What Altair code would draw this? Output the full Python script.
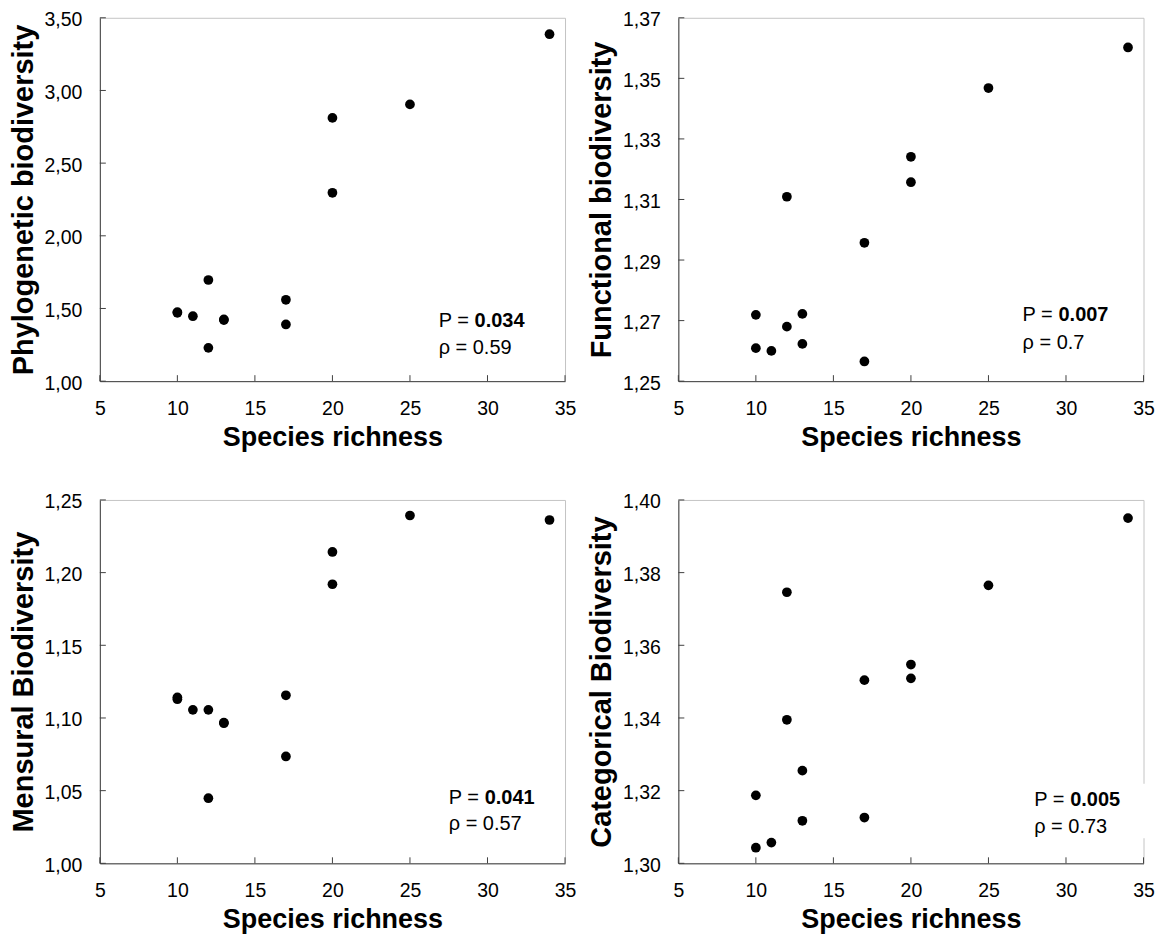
import altair as alt
import pandas as pd

# ---- data ----
richness = [10, 10, 11, 12, 12, 13, 13, 17, 17, 20, 20, 25, 34]
phylogenetic = [1.475, 1.470, 1.447, 1.696, 1.229, 1.420, 1.425, 1.560, 1.390, 2.811, 2.296, 2.904, 3.387]
functional = [1.2719, 1.2609, 1.2600, 1.3109, 1.2680, 1.2722, 1.2623, 1.2957, 1.2565, 1.3241, 1.3157, 1.3468, 1.3602]
mensural = [1.1142, 1.1129, 1.1056, 1.1056, 1.0448, 1.0964, 1.0968, 1.1156, 1.0735, 1.2142, 1.1920, 1.2393, 1.2362]
categorical = [1.3187, 1.3043, 1.3057, 1.3746, 1.3395, 1.3255, 1.3117, 1.3504, 1.3126, 1.3547, 1.3509, 1.3765, 1.3950]

x_ticks = [5, 10, 15, 20, 25, 30, 35]
phylo_ticks = [1.00, 1.50, 2.00, 2.50, 3.00, 3.50]
func_ticks = [1.25, 1.27, 1.29, 1.31, 1.33, 1.35, 1.37]
mens_ticks = [1.00, 1.05, 1.10, 1.15, 1.20, 1.25]
cat_ticks = [1.30, 1.32, 1.34, 1.36, 1.38, 1.40]

y_titles = ["Phylogenetic biodiversity", "Functional biodiversity",
            "Mensural Biodiversity", "Categorical Biodiversity"]
x_title = "Species richness"

p_values = ["0.034", "0.007", "0.041", "0.005"]
rho_values = ["0.59", "0.7", "0.57", "0.73"]
ann_x = [26.85, 27.2, 27.5, 27.95]
ann_p_y = [1.4125, 1.2717, 1.0452, 1.3173]
ann_r_y = [1.2267, 1.2627, 1.0271, 1.3100]

# white label box in the last panel (x1, x2, y1, y2)
box4 = [27.3, 35.4, 1.3069, 1.3219]

W, H = 466, 364
FONT = "Liberation Sans"
AXC = "#404040"
LABEL_EXPR = "replace(format(datum.value, '.2f'), '.', ',')"


def panel(yvals, ytitle, yticks, i, box=None):
    xs = alt.Scale(domain=[x_ticks[0], x_ticks[-1]], nice=False, zero=False)
    ys = alt.Scale(domain=[yticks[0], yticks[-1]], nice=False, zero=False)
    xax = alt.Axis(title=x_title, values=x_ticks)
    yax = alt.Axis(title=ytitle, values=yticks, labelExpr=LABEL_EXPR)

    def X(f):
        return alt.X(f, scale=xs, axis=xax)

    def Y(f):
        return alt.Y(f, scale=ys, axis=yax)

    df = pd.DataFrame({"x": richness, "y": yvals})
    pts = alt.Chart(df).mark_circle(size=95, color="black", opacity=1).encode(
        x=X("x:Q"), y=Y("y:Q"))
    ytk = alt.Chart(pd.DataFrame({"y": yticks})).mark_rule(color=AXC, strokeWidth=1).encode(
        y=Y("y:Q"), x=alt.value(0), x2=alt.value(6))
    xtk = alt.Chart(pd.DataFrame({"x": x_ticks})).mark_rule(color=AXC, strokeWidth=1).encode(
        x=X("x:Q"), y=alt.value(H), y2=alt.value(H - 6))
    layers = [pts, ytk, xtk]
    if box is not None:
        bdf = pd.DataFrame({"x": [box[0]], "x2": [box[1]], "y": [box[2]], "y2": [box[3]]})
        layers.append(alt.Chart(bdf).mark_rect(color="white").encode(
            x=X("x:Q"), x2="x2:Q", y=Y("y:Q"), y2="y2:Q"))
    adf = pd.DataFrame({"x": [ann_x[i]], "yp": [ann_p_y[i]], "yr": [ann_r_y[i]],
                        "p": ["P = "], "pv": [p_values[i]], "r": ["ρ = " + rho_values[i]]})
    base = alt.Chart(adf)
    tp = base.mark_text(align="left", baseline="middle", font=FONT, fontSize=20, color="black").encode(
        x=X("x:Q"), y=Y("yp:Q"), text="p:N")
    tv = base.mark_text(align="left", baseline="middle", font=FONT, fontSize=20, fontWeight="bold",
                        color="black", dx=36).encode(
        x=X("x:Q"), y=Y("yp:Q"), text="pv:N")
    tr = base.mark_text(align="left", baseline="middle", font=FONT, fontSize=20, color="black").encode(
        x=X("x:Q"), y=Y("yr:Q"), text="r:N")
    layers += [tp, tv, tr]
    return alt.layer(*layers).properties(width=W, height=H)


p1 = panel(phylogenetic, y_titles[0], phylo_ticks, 0)
p2 = panel(functional, y_titles[1], func_ticks, 1)
p3 = panel(mensural, y_titles[2], mens_ticks, 2)
p4 = panel(categorical, y_titles[3], cat_ticks, 3, box=box4)

row1 = alt.hconcat(p1, p2, spacing=9.5)
row2 = alt.hconcat(p3, p4, spacing=9.5)

chart = alt.vconcat(row1, row2, spacing=40).properties(
    padding={"left": 0, "top": 0, "right": 0, "bottom": 0}
).configure_view(
    stroke="#c4c4c4", strokeWidth=1
).configure_axis(
    labelFont=FONT, titleFont=FONT, labelFontSize=19.5, labelColor="black",
    titleColor="black", titleFontWeight="bold", domainColor=AXC, domainWidth=1,
    ticks=False, tickSize=0, grid=False, labelFlush=False, labelOverlap=False
).configure_axisX(
    labelPadding=18, titlePadding=7, titleFontSize=27
).configure_axisY(
    labelPadding=18, titlePadding=6, titleFontSize=29, labelOffset=2
)

chart.save("out.html", embed_options={"renderer": "svg", "actions": False})
